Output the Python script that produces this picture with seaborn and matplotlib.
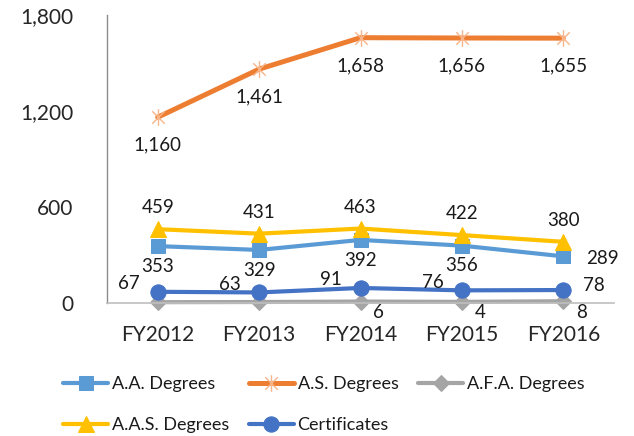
import matplotlib
matplotlib.use("Agg")
import matplotlib.pyplot as plt
import matplotlib.ticker as mticker
from matplotlib.path import Path
import pandas as pd
import seaborn as sns

years = ["FY2012", "FY2013", "FY2014", "FY2015", "FY2016"]
aa_degrees = [353, 329, 392, 356, 289]
as_degrees = [1160, 1461, 1658, 1656, 1655]
afa_degrees = [2, 3, 6, 4, 8]
aas_degrees = [459, 431, 463, 422, 380]
certificates = [67, 63, 91, 76, 78]
afa_shown = [False, False, True, True, True]

y_ticks = [0, 600, 1200, 1800]

# excel-ish star marker: vertical bar plus an X
star = Path([(0, -1), (0, 1), (-0.75, -0.75), (0.75, 0.75), (-0.75, 0.75), (0.75, -0.75)],
            [Path.MOVETO, Path.LINETO, Path.MOVETO, Path.LINETO, Path.MOVETO, Path.LINETO])

sns.set_style("white")
plt.rcParams['font.family'] = ['Lato', 'DejaVu Sans']
plt.rcParams['text.color'] = '#1a1a1a'

fig = plt.figure(figsize=(6.34, 4.36), dpi=100)
ax = fig.add_axes([107 / 634, 1 - 302.5 / 436, 507 / 634, 287.5 / 436])

x = list(range(len(years)))
df = pd.DataFrame({"x": x, "A.A. Degrees": aa_degrees, "A.S. Degrees": as_degrees,
                   "A.F.A. Degrees": afa_degrees, "A.A.S. Degrees": aas_degrees,
                   "Certificates": certificates})

styles = {
    "A.A. Degrees": dict(color="#5B9BD5", marker="s", markersize=10, lw=3.0, mec="#5B9BD5"),
    "A.S. Degrees": dict(color="#ED7D31", marker=star, markersize=12, lw=3.6, mec="#F8B58A", mew=1.0),
    "A.F.A. Degrees": dict(color="#A5A5A5", marker="D", markersize=8, lw=3.0, mec="#A5A5A5"),
    "A.A.S. Degrees": dict(color="#FFC000", marker="^", markersize=12, lw=3.0, mec="#FFC000"),
    "Certificates": dict(color="#4472C4", marker="o", markersize=11, lw=3.0, mec="#4472C4"),
}

handles = {}
for name, st in styles.items():
    sns.lineplot(data=df, x="x", y=name, ax=ax, label=name, clip_on=False, **st)
    handles[name] = ax.get_lines()[-1]

def label_series(values, offset, shown=None, last_offset=None):
    for i, v in enumerate(values):
        if shown is not None and not shown[i]:
            continue
        off = last_offset if (last_offset is not None and i == len(values) - 1) else offset
        ax.annotate(f"{v:,}", (x[i], v), xytext=off, textcoords="offset points",
                    ha="center", va="center", fontsize=13.5)

label_series(as_degrees, (0, -20))
label_series(aas_degrees, (0, 15.5))
label_series(aa_degrees, (0, -14.5), last_offset=(28, -1.5))
label_series(certificates, (-21, 6), last_offset=(22, 3.5))
label_series(afa_degrees, (13, -8), shown=afa_shown)

ax.set_xlim(-0.5, len(years) - 0.5)
ax.set_ylim(0, 1800)
ax.set_yticks(y_ticks)
ax.yaxis.set_major_formatter(mticker.FuncFormatter(lambda v, p: f"{int(v):,}"))
ax.set_xticks(x)
ax.set_xticklabels(years)
ax.set_xticks([i - 0.5 for i in range(len(years) + 1)], minor=True)
ax.tick_params(axis="x", which="major", length=0, pad=16, labelsize=15)
ax.tick_params(axis="x", which="minor", length=8, color="#BFBFBF", direction="out", width=1)
ax.tick_params(axis="y", length=0, pad=24, labelsize=15)
ax.set_xlabel("")
ax.set_ylabel("")
for s in ["top", "right"]:
    ax.spines[s].set_visible(False)
ax.spines["left"].set_color("#8C8C8C")
ax.spines["bottom"].set_color("#BFBFBF")
ax.spines["left"].set_linewidth(1)
ax.spines["bottom"].set_linewidth(1.2)
ax.get_legend().remove()

order = ["A.A. Degrees", "A.A.S. Degrees", "A.S. Degrees", "Certificates", "A.F.A. Degrees"]
fig.legend([handles[n] for n in order], order, loc="upper left", bbox_to_anchor=(63 / 634, 1 - 376 / 436),
           ncol=3, frameon=False, fontsize=13, handlelength=2.5, handletextpad=0.2,
           columnspacing=1.1, labelspacing=1.38, borderpad=0, borderaxespad=0)

fig.savefig("out.png", dpi=100)
